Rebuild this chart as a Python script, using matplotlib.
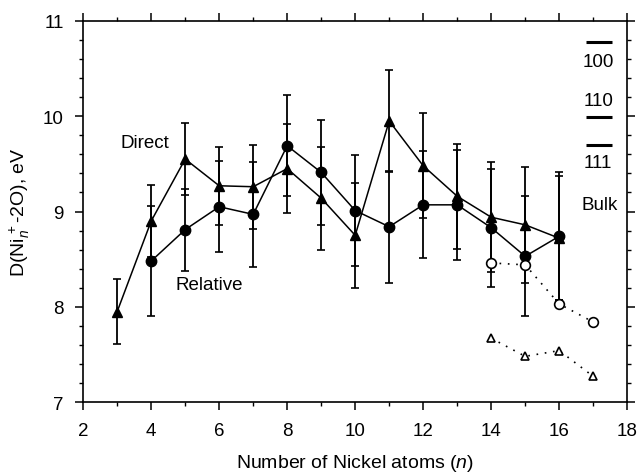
import matplotlib
matplotlib.use("Agg")
import matplotlib.pyplot as plt
from matplotlib.ticker import MultipleLocator

plt.rcParams['font.family'] = ['Liberation Sans', 'DejaVu Sans']
plt.rcParams['mathtext.fontset'] = 'custom'
plt.rcParams['mathtext.rm'] = 'Liberation Sans'
plt.rcParams['mathtext.it'] = 'Liberation Sans:italic'

# Direct (filled triangles)
n_direct = [3, 4, 5, 6, 7, 8, 9, 10, 11, 12, 13, 14, 15, 16]
direct = [7.95, 8.90, 9.55, 9.27, 9.26, 9.45, 9.14, 8.75, 9.95, 9.48, 9.16, 8.94, 8.86, 8.72]
direct_err = [0.34, 0.38, 0.38, 0.41, 0.44, 0.47, 0.54, 0.55, 0.54, 0.55, 0.55, 0.58, 0.61, 0.65]

# Relative (filled circles)
n_rel = [4, 5, 6, 7, 8, 9, 10, 11, 12, 13, 14, 15, 16]
relative = [8.48, 8.81, 9.05, 8.97, 9.69, 9.41, 9.01, 8.84, 9.07, 9.07, 8.83, 8.53, 8.74]
relative_err = [0.58, 0.43, 0.48, 0.55, 0.53, 0.55, 0.58, 0.59, 0.56, 0.58, 0.62, 0.63, 0.67]

# Open (dotted) series
n_open = [14, 15, 16, 17]
open_circ = [8.46, 8.44, 8.03, 7.84]
open_tri = [7.67, 7.48, 7.54, 7.27]

# Bulk surface reference levels
bulk_levels = [10.78, 9.99, 9.70]
bulk_labels = ['100', '110', '111']

fig = plt.figure(figsize=(6.4, 4.77), dpi=100)
ax = fig.add_axes([0.130, 0.155, 0.850, 0.799])

ax.errorbar(n_direct, direct, yerr=direct_err, fmt='-^', color='black', ms=7,
            lw=1.1, elinewidth=1.3, capsize=3, capthick=1.2, zorder=3)
ax.errorbar(n_rel, relative, yerr=relative_err, fmt='-o', color='black', ms=7.5,
            lw=1.1, elinewidth=1.3, capsize=3, capthick=1.2, zorder=3)
ax.plot(n_open, open_circ, linestyle=(0, (1, 4)), color='black', lw=1.2,
        marker='o', mfc='white', mec='black', ms=7, mew=1.2, zorder=4)
ax.plot(n_open, open_tri, linestyle=(0, (1, 4)), color='black', lw=1.2,
        marker='^', mfc='white', mec='black', ms=6, mew=1.2, zorder=4)

for lvl in bulk_levels:
    ax.hlines(lvl, 16.78, 17.55, color='black', lw=2.2)
fs = 13.5
ax.text(17.15, 10.57, bulk_labels[0], ha='center', va='center', fontsize=fs)
ax.text(17.15, 10.16, bulk_labels[1], ha='center', va='center', fontsize=fs)
ax.text(17.15, 9.51, bulk_labels[2], ha='center', va='center', fontsize=fs)
ax.text(17.18, 9.07, 'Bulk', ha='center', va='center', fontsize=fs)

ax.text(3.8, 9.72, 'Direct', ha='center', va='center', fontsize=fs)
ax.text(5.7, 8.23, 'Relative', ha='center', va='center', fontsize=fs)

ax.set_xlim(2, 18)
ax.set_ylim(7, 11)
ax.xaxis.set_major_locator(MultipleLocator(2))
ax.xaxis.set_minor_locator(MultipleLocator(1))
ax.yaxis.set_major_locator(MultipleLocator(1))
ax.yaxis.set_minor_locator(MultipleLocator(0.2))
ax.tick_params(which='both', direction='out', top=True, right=True, labelsize=fs)
ax.tick_params(which='major', length=6, width=1.1, pad=8)
ax.tick_params(which='minor', length=3, width=1.0)
for s in ax.spines.values():
    s.set_linewidth(1.2)

ax.set_xlabel(r'Number of Nickel atoms ($\mathit{n}$)', fontsize=14, labelpad=10)
ax.set_ylabel(r'D(Ni$_{\mathit{n}}^{\,+}$-2O), eV', fontsize=14, labelpad=8)

fig.savefig('out.png', dpi=100)
